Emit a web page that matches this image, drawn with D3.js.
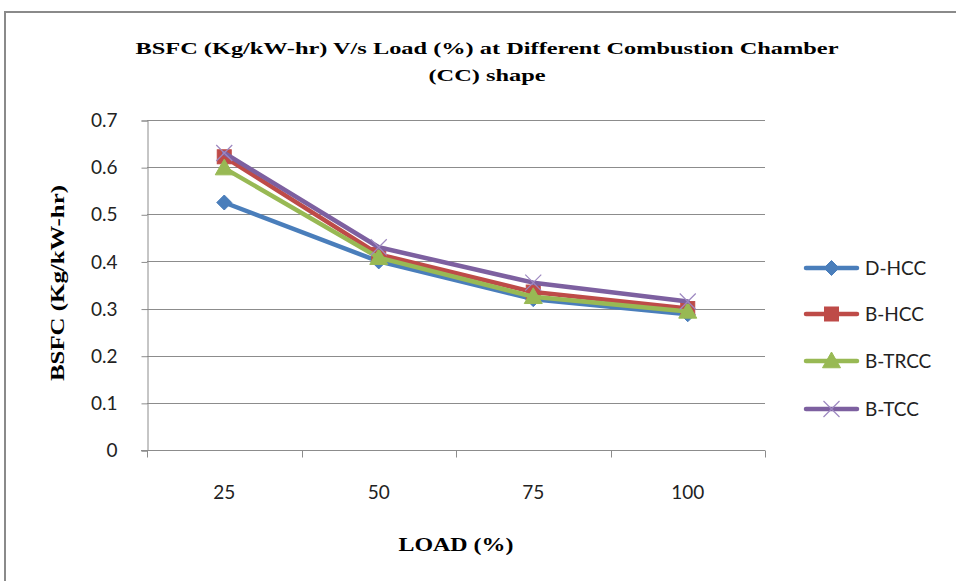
<!DOCTYPE html>
<html>
<head>
<meta charset="utf-8">
<script src="https://cdn.jsdelivr.net/npm/d3@7"></script>
<style>
  html, body { margin: 0; padding: 0; background: #fff; }
  svg { display: block; }
</style>
</head>
<body>
<svg id="chart" width="956" height="581"></svg>
<script>
const categories = ["25", "50", "75", "100"];
const seriesNames = ["D-HCC", "B-HCC", "B-TRCC", "B-TCC"];
const dHCC  = [0.525, 0.40, 0.32, 0.288];
const bHCC  = [0.622, 0.415, 0.335, 0.30];
const bTRCC = [0.598, 0.408, 0.325, 0.294];
const bTCC  = [0.63, 0.43, 0.355, 0.315];
const yTicks = [0, 0.1, 0.2, 0.3, 0.4, 0.5, 0.6, 0.7];
const titleLines = ["BSFC (Kg/kW-hr) V/s Load (%) at Different  Combustion Chamber", "(CC) shape"];
const xTitle = "LOAD (%)";
const yTitle = "BSFC (Kg/kW-hr)";

const colors = ["#4A7EBB", "#BE4B48", "#98B954", "#7D60A0"];
const markerTypes = ["diamond", "square", "triangle", "x"];
const seriesValues = [dHCC, bHCC, bTRCC, bTCC];

const svg = d3.select("#chart");
const W = 956, H = 581;

// outer chart border
svg.append("path")
  .attr("d", `M5,${H+5} L5,12 L${W+5},12`)
  .attr("fill", "none").attr("stroke", "#8a8a8a").attr("stroke-width", 2);

const plot = { left: 147, right: 765, top: 120, bottom: 450 };

const x = d3.scaleBand().domain(categories).range([plot.left, plot.right]).padding(0);
const y = d3.scaleLinear().domain([0, 0.7]).range([plot.bottom, plot.top]);

// gridlines
svg.append("g").selectAll("line").data(yTicks.filter(d => d > 0)).join("line")
  .attr("x1", plot.left).attr("x2", plot.right)
  .attr("y1", d => Math.round(y(d)) + 0.5).attr("y2", d => Math.round(y(d)) + 0.5)
  .attr("stroke", "#8c8c8c").attr("stroke-width", 1);

// y axis
const yAxis = svg.append("g")
  .attr("transform", `translate(${plot.left + 0.5},0.5)`)
  .call(d3.axisLeft(y).tickValues(yTicks).tickSize(6).tickPadding(24)
        .tickFormat(d => d === 0 ? "0" : d3.format(".1f")(d)));
yAxis.select(".domain").attr("stroke", "#8c8c8c");
yAxis.selectAll(".tick line").attr("stroke", "#8c8c8c");
yAxis.selectAll("text").attr("font-family", "Lato, 'Open Sans', sans-serif")
  .attr("font-size", 19).attr("fill", "#222");

// x axis
const xAxis = svg.append("g")
  .attr("transform", `translate(0,${plot.bottom + 0.5})`);
xAxis.append("line").attr("x1", plot.left - 6).attr("x2", plot.right)
  .attr("y1", 0).attr("y2", 0).attr("stroke", "#8c8c8c");
const boundaries = categories.map(c => x(c)).concat([x(categories[categories.length - 1]) + x.bandwidth()]);
xAxis.selectAll("line.tk").data(boundaries).join("line").attr("class", "tk")
  .attr("x1", d => Math.round(d) + 0.5).attr("x2", d => Math.round(d) + 0.5)
  .attr("y1", 0).attr("y2", 7).attr("stroke", "#8c8c8c");
xAxis.selectAll("text").data(categories).join("text")
  .attr("x", d => x(d) + x.bandwidth() / 2)
  .attr("y", 48)
  .attr("text-anchor", "middle")
  .attr("font-family", "Lato, 'Open Sans', sans-serif")
  .attr("font-size", 19).attr("fill", "#222")
  .text(d => d);

// title
svg.append("text").attr("x", 487).attr("y", 54).attr("text-anchor", "middle")
  .attr("font-family", "'Liberation Serif', 'Times New Roman', serif")
  .attr("font-weight", "bold").attr("font-size", 17)
  .attr("textLength", 703).attr("lengthAdjust", "spacingAndGlyphs")
  .text(titleLines[0]);
svg.append("text").attr("x", 487).attr("y", 81).attr("text-anchor", "middle")
  .attr("font-family", "'Liberation Serif', 'Times New Roman', serif")
  .attr("font-weight", "bold").attr("font-size", 17)
  .attr("textLength", 117).attr("lengthAdjust", "spacingAndGlyphs")
  .text(titleLines[1]);

// axis titles
svg.append("text").attr("x", 456).attr("y", 551).attr("text-anchor", "middle")
  .attr("font-family", "'Liberation Serif', 'Times New Roman', serif")
  .attr("font-weight", "bold").attr("font-size", 18)
  .attr("textLength", 115).attr("lengthAdjust", "spacingAndGlyphs")
  .text(xTitle);
svg.append("text")
  .attr("transform", "translate(64,283) rotate(-90)")
  .attr("text-anchor", "middle")
  .attr("font-family", "'Liberation Serif', 'Times New Roman', serif")
  .attr("font-weight", "bold").attr("font-size", 18)
  .attr("textLength", 196).attr("lengthAdjust", "spacingAndGlyphs")
  .text(yTitle);

// marker drawer
function drawMarker(g, type, cx, cy, color) {
  if (type === "diamond") {
    const s = 7.5;
    g.append("path").attr("d", `M${cx},${cy - s} L${cx + s},${cy} L${cx},${cy + s} L${cx - s},${cy} Z`)
      .attr("fill", color).attr("stroke", color).attr("stroke-width", 1);
  } else if (type === "square") {
    const s = 7;
    g.append("rect").attr("x", cx - s).attr("y", cy - s).attr("width", 2 * s).attr("height", 2 * s)
      .attr("fill", color).attr("stroke", color).attr("stroke-width", 1);
  } else if (type === "triangle") {
    const s = 9;
    g.append("path").attr("d", `M${cx},${cy - s} L${cx + s},${cy + s * 0.75} L${cx - s},${cy + s * 0.75} Z`)
      .attr("fill", color).attr("stroke", color).attr("stroke-width", 1);
  } else if (type === "x") {
    const s = 8;
    g.append("path").attr("d", `M${cx - s},${cy - s} L${cx + s},${cy + s} M${cx - s},${cy + s} L${cx + s},${cy - s}`)
      .attr("fill", "none").attr("stroke", "#9d88c0").attr("stroke-width", 1.2);
  }
}

// series
const line = d3.line().x((d, i) => x(categories[i]) + x.bandwidth() / 2).y(d => y(d));
seriesValues.forEach((vals, si) => {
  const g = svg.append("g");
  g.append("path").datum(vals).attr("d", line)
    .attr("fill", "none").attr("stroke", colors[si]).attr("stroke-width", 4.5)
    .attr("stroke-linejoin", "round").attr("stroke-linecap", "round");
  vals.forEach((v, i) => {
    drawMarker(g, markerTypes[si], x(categories[i]) + x.bandwidth() / 2, y(v), colors[si]);
  });
});

// legend
const legendRows = [268, 314, 361, 409];
seriesNames.forEach((name, si) => {
  const g = svg.append("g");
  const ly = legendRows[si];
  g.append("line").attr("x1", 806).attr("x2", 857).attr("y1", ly).attr("y2", ly)
    .attr("stroke", colors[si]).attr("stroke-width", 4.5).attr("stroke-linecap", "round");
  drawMarker(g, markerTypes[si], 831.5, ly, colors[si]);
  g.append("text").attr("x", 865).attr("y", ly + 7)
    .attr("font-family", "Lato, 'Open Sans', sans-serif")
    .attr("font-size", 19).attr("fill", "#222")
    .text(name);
});
</script>
</body>
</html>
